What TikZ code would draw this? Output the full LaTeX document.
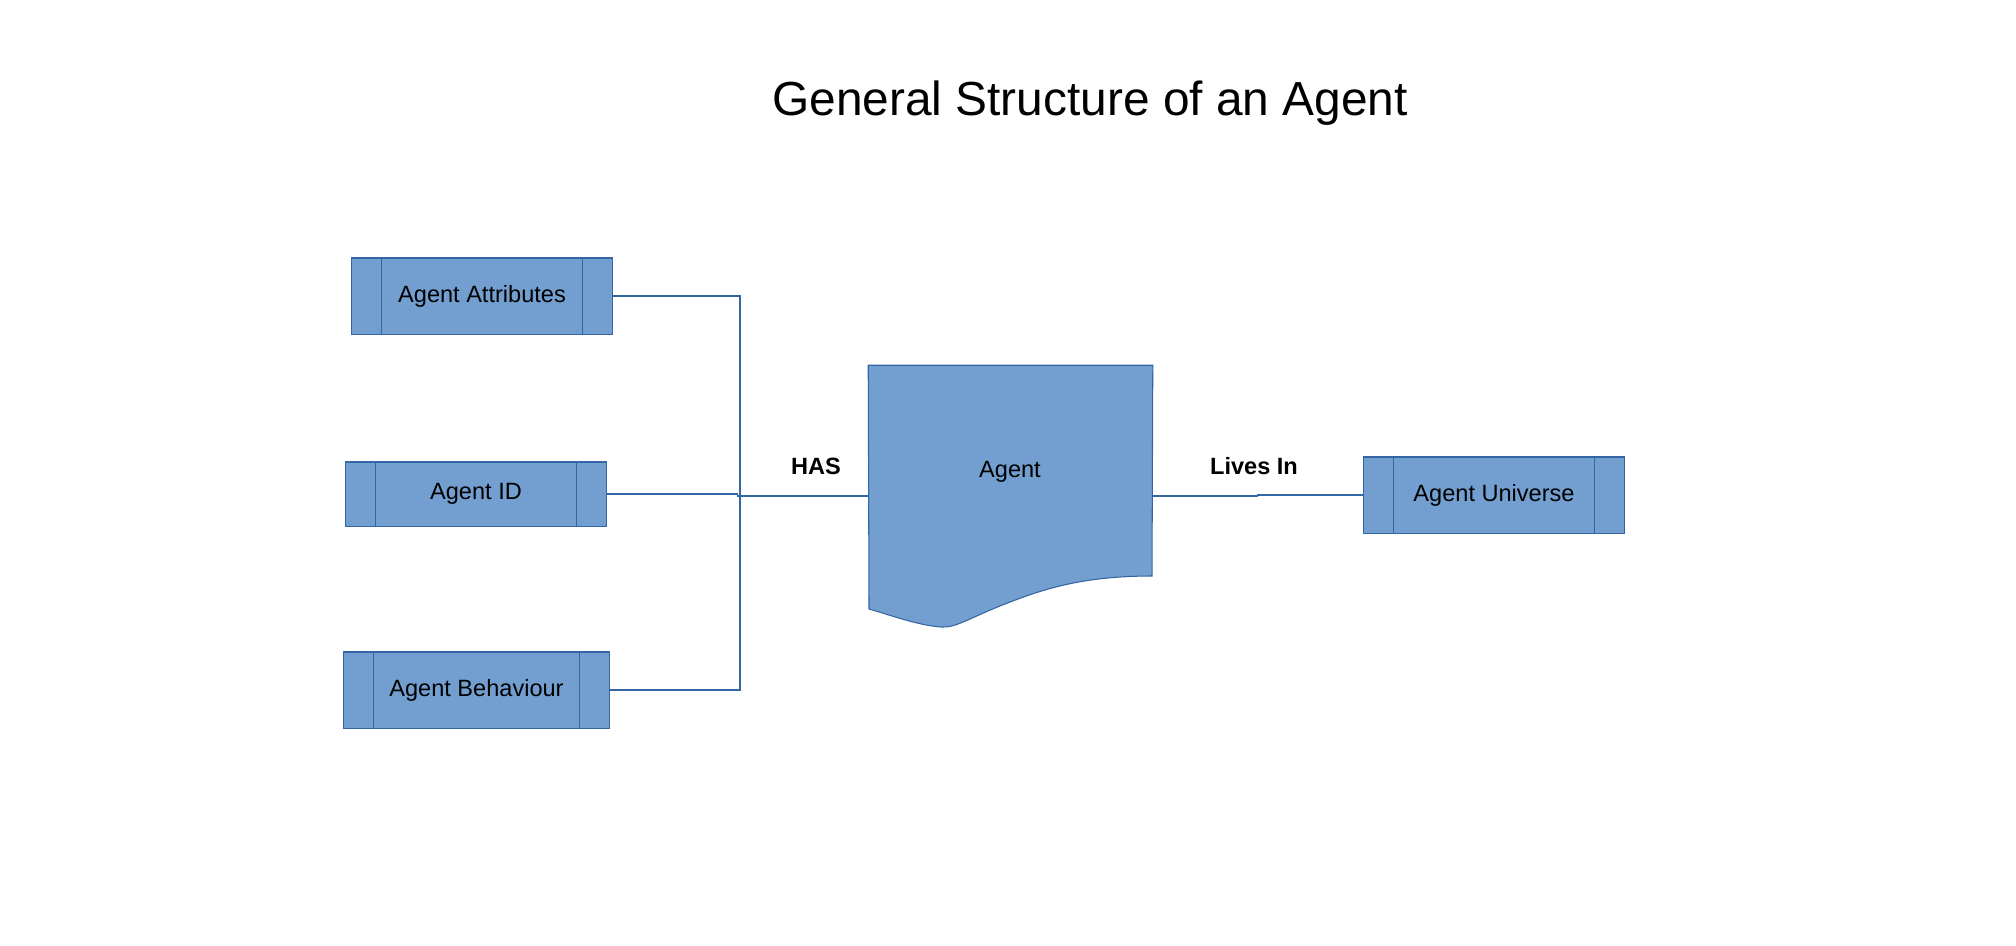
\documentclass[tikz,border=0pt]{standalone}
\usepackage{fontspec}
\setmainfont{Liberation Sans}
\definecolor{boxfill}{RGB}{114,159,207}
\definecolor{boxline}{RGB}{52,101,164}

\begin{document}
\begin{tikzpicture}[x=0.01cm, y=-0.01cm]

    % Define the styles for the nodes
    \tikzstyle{process} = [rectangle, draw=boxline, fill=boxfill, line width=0.3pt, text centered, minimum width=2.6cm, minimum height=0.76cm, inner sep=0pt, font=\fontsize{6.7}{8}\selectfont]
    \tikzstyle{link} = [draw=boxline, line width=0.3pt]
    \tikzstyle{tag} = [font=\fontsize{6.7}{8}\selectfont\bfseries]

    \useasboundingbox (0,0) rectangle (2016,945);

    % Title
    \node (title) at (1090,103) {\fontsize{13.6}{16}\selectfont General Structure of an Agent};

    % Nodes
    \node (attr) [process] at (482,296) {Agent Attributes};
    \node (id) [process, minimum height=0.64cm] at (476,494) {Agent ID};
    \node (behav) [process, minimum width=2.65cm] at (476.5,690) {Agent Behaviour};
    \node (universe) [process] at (1494,495) {Agent Universe};
    \node (agent) [minimum width=2.83cm, minimum height=2.6cm, inner sep=0pt] at (1010.5,496) {};

    % Document shape of the agent
    \draw[boxline, fill=boxfill, line width=0.3pt] (agent.north west) -- (agent.north east) -- (1152,576)
        .. controls (1080,576) and (1040,590) .. (1000,606)
        .. controls (970,618) and (955,628) .. (942,627)
        .. controls (920,626) and (890,615) .. (869,609) -- cycle;
    \node (agenttext) [font=\fontsize{6.7}{8}\selectfont] at (1010,472) {Agent};

    % Inner bars of the process boxes
    \foreach \n in {attr, id, behav, universe}
        \draw[link] ([xshift=0.3cm]\n.north west) -- ([xshift=0.3cm]\n.south west)
            ([xshift=-0.3cm]\n.north east) -- ([xshift=-0.3cm]\n.south east);

    % Lines
    \coordinate (bus) at (740,496);
    \draw[link] (attr.east) -| (bus) |- (behav.east);
    \draw[link] (id.east) -- ++(131,0) |- (agent.west);
    \draw[link] (agent.east) -- ++(105,0) |- (universe.west);

    % Labels
    \node (has) [tag] at (816,466) {HAS};
    \node (livesin) [tag] at (1254,466) {Lives In};

\end{tikzpicture}
\end{document}
